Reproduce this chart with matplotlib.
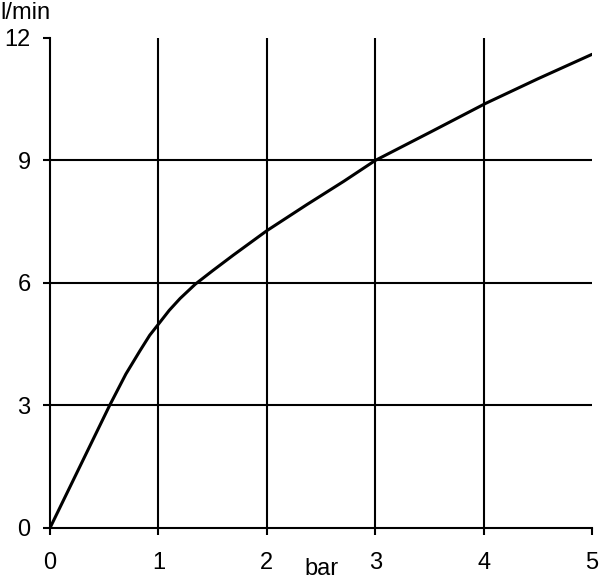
import matplotlib
matplotlib.use("Agg")
import matplotlib.pyplot as plt

# flow curve (bar -> l/min)
pressure = [0, 0.55, 0.70, 0.83, 0.92, 1.0, 1.1, 1.2, 1.34, 1.5, 1.69, 2.0,
            2.37, 2.71, 3.0, 3.52, 4.02, 4.5, 5.0]
flow = [0, 3.0, 3.77, 4.34, 4.72, 4.99, 5.33, 5.62, 5.97, 6.30, 6.68, 7.28,
        7.92, 8.49, 9.0, 9.71, 10.4, 11.0, 11.6]

x_ticks = [0, 1, 2, 3, 4, 5]
y_ticks = [0, 3, 6, 9, 12]

plt.rcParams['font.family'] = ['Liberation Sans', 'DejaVu Sans']

fig = plt.figure(figsize=(6, 5.8), dpi=100)
ax = fig.add_axes([0.0833, 0.0897, 0.9034, 0.8448])

# grid only inside the box, no lines at the far ends
ax.vlines(x_ticks[1:-1], 0, 12, color='black', linewidth=1.5)
ax.hlines(y_ticks[1:-1], 0, 5, color='black', linewidth=1.5)

ax.plot(pressure, flow, color='black', linewidth=2.2,
        solid_capstyle='round', solid_joinstyle='round')

ax.set_xlim(0, 5)
ax.set_ylim(0, 12)
ax.set_xticks(x_ticks)
ax.set_yticks(y_ticks)
ax.tick_params(direction='out', length=5, width=1.5, labelsize=17, color='black')
ax.tick_params(axis='x', pad=12)
ax.tick_params(axis='y', pad=9)

for side in ['top', 'right']:
    ax.spines[side].set_visible(False)
for side in ['left', 'bottom']:
    ax.spines[side].set_linewidth(1.5)

fig.text(0.0, 0.997, "l/min", fontsize=17, ha='left', va='top')
fig.text(0.535, 0.0, "bar", fontsize=17, ha='center', va='bottom')

fig.savefig("out.png", dpi=100)
